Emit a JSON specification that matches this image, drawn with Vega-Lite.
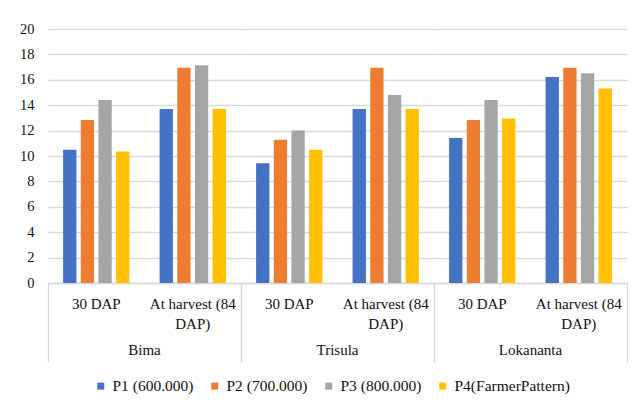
{
  "$schema": "https://vega.github.io/schema/vega-lite/v6.json",
  "padding": {"left": 19, "top": 21, "right": 10, "bottom": 5},
  "data": {
    "values": [
      {"variety": "Bima", "stage": "30 DAP", "treatment": "P1 (600.000)", "value": 10.5},
      {"variety": "Bima", "stage": "30 DAP", "treatment": "P2 (700.000)", "value": 12.83},
      {"variety": "Bima", "stage": "30 DAP", "treatment": "P3 (800.000)", "value": 14.4},
      {"variety": "Bima", "stage": "30 DAP", "treatment": "P4(FarmerPattern)", "value": 10.35},
      {"variety": "Bima", "stage": "At harvest (84 DAP)", "treatment": "P1 (600.000)", "value": 13.7},
      {"variety": "Bima", "stage": "At harvest (84 DAP)", "treatment": "P2 (700.000)", "value": 16.95},
      {"variety": "Bima", "stage": "At harvest (84 DAP)", "treatment": "P3 (800.000)", "value": 17.15},
      {"variety": "Bima", "stage": "At harvest (84 DAP)", "treatment": "P4(FarmerPattern)", "value": 13.7},
      {"variety": "Trisula", "stage": "30 DAP", "treatment": "P1 (600.000)", "value": 9.43},
      {"variety": "Trisula", "stage": "30 DAP", "treatment": "P2 (700.000)", "value": 11.28},
      {"variety": "Trisula", "stage": "30 DAP", "treatment": "P3 (800.000)", "value": 12.0},
      {"variety": "Trisula", "stage": "30 DAP", "treatment": "P4(FarmerPattern)", "value": 10.5},
      {"variety": "Trisula", "stage": "At harvest (84 DAP)", "treatment": "P1 (600.000)", "value": 13.7},
      {"variety": "Trisula", "stage": "At harvest (84 DAP)", "treatment": "P2 (700.000)", "value": 16.95},
      {"variety": "Trisula", "stage": "At harvest (84 DAP)", "treatment": "P3 (800.000)", "value": 14.8},
      {"variety": "Trisula", "stage": "At harvest (84 DAP)", "treatment": "P4(FarmerPattern)", "value": 13.7},
      {"variety": "Lokananta", "stage": "30 DAP", "treatment": "P1 (600.000)", "value": 11.42},
      {"variety": "Lokananta", "stage": "30 DAP", "treatment": "P2 (700.000)", "value": 12.83},
      {"variety": "Lokananta", "stage": "30 DAP", "treatment": "P3 (800.000)", "value": 14.4},
      {"variety": "Lokananta", "stage": "30 DAP", "treatment": "P4(FarmerPattern)", "value": 12.96},
      {"variety": "Lokananta", "stage": "At harvest (84 DAP)", "treatment": "P1 (600.000)", "value": 16.22},
      {"variety": "Lokananta", "stage": "At harvest (84 DAP)", "treatment": "P2 (700.000)", "value": 16.95},
      {"variety": "Lokananta", "stage": "At harvest (84 DAP)", "treatment": "P3 (800.000)", "value": 16.52},
      {"variety": "Lokananta", "stage": "At harvest (84 DAP)", "treatment": "P4(FarmerPattern)", "value": 15.32}
    ]
  },
  "spacing": 0,
  "facet": {
    "column": {
      "field": "variety",
      "type": "nominal",
      "sort": ["Bima", "Trisula", "Lokananta"],
      "header": {
        "title": null,
        "labelOrient": "bottom",
        "labelFont": "Liberation Serif",
        "labelFontSize": 15,
        "labelColor": "#111111",
        "labelPadding": -20
      }
    }
  },
  "spec": {
    "width": 193,
    "height": 254,
    "mark": {"type": "bar"},
    "encoding": {
      "x": {
        "field": "stage",
        "type": "nominal",
        "sort": ["30 DAP", "At harvest (84 DAP)"],
        "scale": {"paddingInner": 0, "paddingOuter": 0},
        "axis": {
          "title": null,
          "labelAngle": 0,
          "grid": false,
          "domainColor": "#d9d9d9",
          "domainWidth": 1.3,
          "tickColor": "#d9d9d9",
          "tickWidth": 1.3,
          "tickSize": 79,
          "bandPosition": 1,
          "tickExtra": true,
          "tickOpacity": {"condition": {"test": "datum.value == '30 DAP' && !datum.extra", "value": 0}, "value": 1},
          "labelOpacity": {"condition": {"test": "datum.extra", "value": 0}, "value": 1},
          "labelOverlap": false,
          "labelPadding": -66,
          "labelFont": "Liberation Serif",
          "labelFontSize": 15,
          "labelLineHeight": 20,
          "labelColor": "#111111",
          "labelExpr": "datum.value == 'At harvest (84 DAP)' ? ['At harvest (84', 'DAP)'] : datum.label"
        }
      },
      "xOffset": {
        "field": "treatment",
        "type": "nominal",
        "sort": ["P1 (600.000)", "P2 (700.000)", "P3 (800.000)", "P4(FarmerPattern)"],
        "scale": {"paddingInner": 0.247, "paddingOuter": 0.855}
      },
      "y": {
        "field": "value",
        "type": "quantitative",
        "scale": {"domain": [0, 20]},
        "axis": {
          "title": null,
          "values": [0, 2, 4, 6, 8, 10, 12, 14, 16, 18, 20],
          "domain": false,
          "ticks": false,
          "tickSize": 0,
          "labelPadding": 14,
          "gridColor": "#d9d9d9",
          "gridWidth": 1.3,
          "labelFont": "Liberation Serif",
          "labelFontSize": 14.5,
          "labelColor": "#111111"
        }
      },
      "color": {
        "field": "treatment",
        "type": "nominal",
        "sort": ["P1 (600.000)", "P2 (700.000)", "P3 (800.000)", "P4(FarmerPattern)"],
        "scale": {
          "domain": ["P1 (600.000)", "P2 (700.000)", "P3 (800.000)", "P4(FarmerPattern)"],
          "range": ["#4472C4", "#ED7D31", "#A5A5A5", "#FFC000"]
        },
        "legend": {
          "title": null,
          "orient": "none",
          "legendX": 45,
          "legendY": 349,
          "padding": 0,
          "direction": "horizontal",
          "symbolType": "square",
          "symbolSize": 49,
          "symbolStrokeWidth": 0,
          "labelFont": "Liberation Serif",
          "labelFontSize": 15.5,
          "labelColor": "#111111",
          "labelOffset": 4,
          "columnPadding": 13
        }
      }
    }
  },
  "config": {
    "view": {"stroke": null},
    "background": "#ffffff",
    "font": "Liberation Serif"
  }
}
